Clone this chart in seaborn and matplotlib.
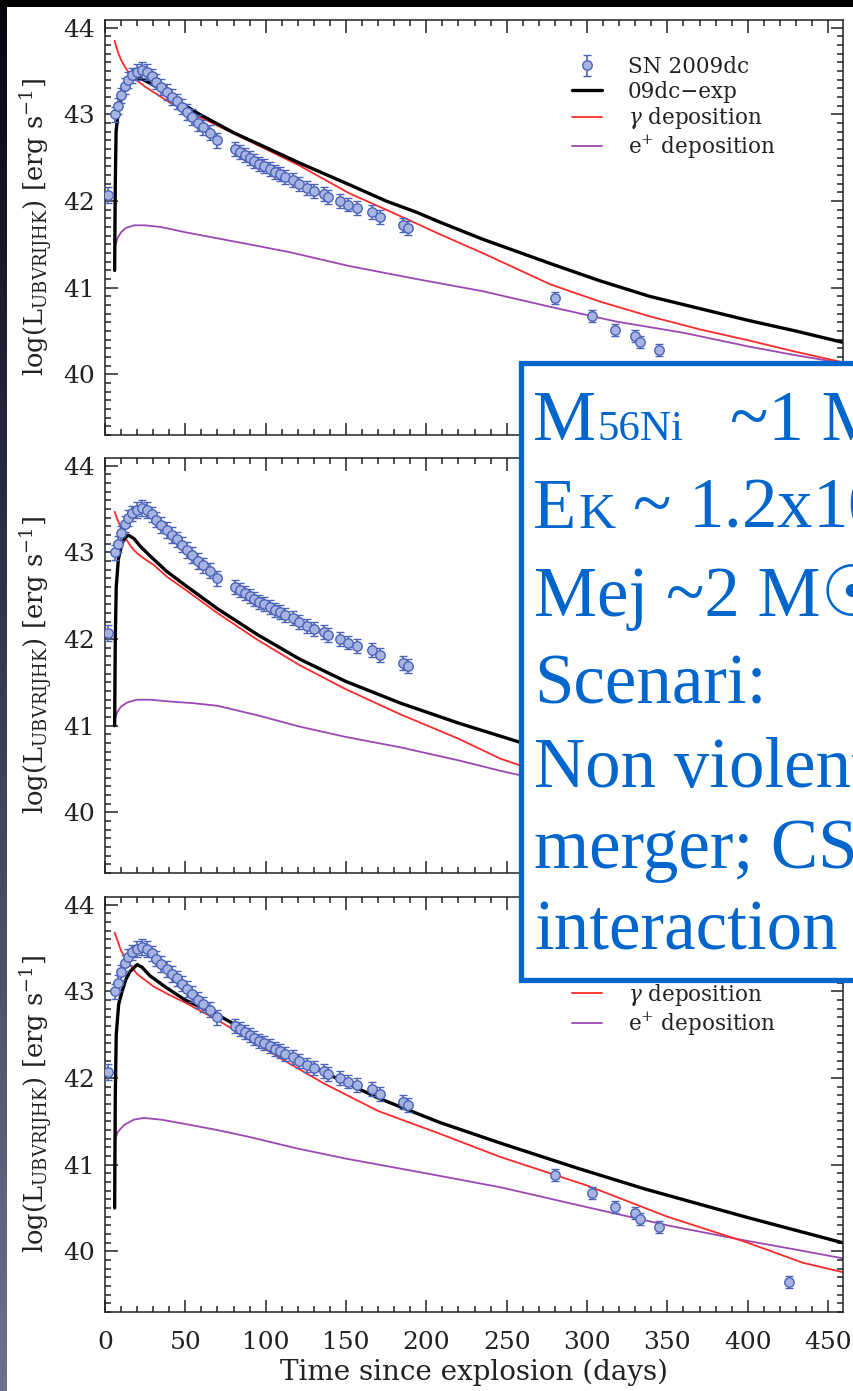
import numpy as np
import pandas as pd
import matplotlib
matplotlib.use("Agg")
import matplotlib.pyplot as plt
import seaborn as sns
from matplotlib.ticker import MultipleLocator, NullFormatter
from matplotlib.patches import Rectangle

# ---------------- data ----------------
obs_day = [2, 6, 8, 10, 12.4, 14.5, 16.6, 19.7, 23, 26, 29, 32, 35, 38.4, 41.5, 44.6,
           47.8, 51, 54, 58, 61, 65.4, 70, 81, 84, 87, 90, 93, 96, 99, 103, 106, 109,
           112, 117, 121, 126, 130, 136, 139, 146, 151, 157, 166, 171, 185.5, 188.6,
           280, 303, 317.5, 330, 333, 345, 426]
obs_logL = [42.07, 43.0, 43.1, 43.22, 43.33, 43.4, 43.45, 43.49, 43.51, 43.49, 43.44,
            43.38, 43.32, 43.26, 43.2, 43.15, 43.09, 43.03, 42.97, 42.9, 42.85, 42.79,
            42.7, 42.6, 42.57, 42.53, 42.5, 42.46, 42.43, 42.4, 42.37, 42.34, 42.31,
            42.28, 42.24, 42.2, 42.15, 42.12, 42.08, 42.05, 42.0, 41.96, 41.92, 41.87,
            41.82, 41.72, 41.69, 40.88, 40.67, 40.51, 40.44, 40.37, 40.28, 39.65]
obs_err = [0.09, 0.09, 0.09, 0.09, 0.09, 0.09, 0.09, 0.09, 0.09, 0.09, 0.09, 0.09,
           0.09, 0.09, 0.09, 0.09, 0.09, 0.09, 0.09, 0.09, 0.09, 0.09, 0.09, 0.08,
           0.08, 0.08, 0.08, 0.08, 0.08, 0.08, 0.08, 0.08, 0.08, 0.08, 0.08, 0.08,
           0.08, 0.08, 0.08, 0.08, 0.08, 0.08, 0.08, 0.08, 0.08, 0.08, 0.08, 0.07,
           0.07, 0.07, 0.07, 0.07, 0.07, 0.07]

# panel 1 model
p1_exp_t = [6, 6.4, 6.9, 8.3, 11.3, 15.6, 18.7, 23, 28, 38.5, 51, 59, 80, 100, 121,
            152, 175, 194, 208, 235, 277, 308, 339, 370, 401, 430, 459]
p1_exp_L = [41.2, 42.2, 42.8, 43.05, 43.25, 43.38, 43.42, 43.41, 43.36, 43.25, 43.09,
            43.0, 42.79, 42.62, 42.44, 42.19, 42.0, 41.87, 41.76, 41.56, 41.28, 41.08,
            40.9, 40.76, 40.62, 40.5, 40.37]
p1_gam_t = [6, 8, 10, 13, 16, 20, 25, 30, 40, 50, 59, 80, 100, 121, 152, 175, 194,
            208, 235, 277, 308, 339, 370, 401, 430, 459]
p1_gam_L = [43.85, 43.72, 43.63, 43.53, 43.46, 43.39, 43.32, 43.26, 43.14, 43.05,
            42.97, 42.78, 42.6, 42.41, 42.09, 41.9, 41.74, 41.62, 41.4, 41.04, 40.84,
            40.67, 40.52, 40.39, 40.26, 40.14]
p1_pos_t = [6, 8, 10, 13, 18, 25, 35, 50, 70, 90, 115, 152, 194, 235, 277, 318, 360,
            401, 430, 459]
p1_pos_L = [41.47, 41.58, 41.64, 41.69, 41.72, 41.72, 41.7, 41.64, 41.57, 41.5, 41.41,
            41.25, 41.1, 40.96, 40.78, 40.61, 40.48, 40.32, 40.22, 40.13]

# panel 2 model
p2_exp_t = [6, 6.4, 7.0, 8.3, 10.5, 12.5, 14.5, 18, 22, 28, 38.5, 50, 70, 95, 121,
            150, 184, 220, 246, 265]
p2_exp_L = [41.0, 42.0, 42.6, 42.92, 43.1, 43.17, 43.2, 43.16, 43.07, 42.96, 42.78,
            42.62, 42.35, 42.05, 41.77, 41.51, 41.26, 41.03, 40.88, 40.77]
p2_gam_t = [6, 8, 10, 13, 16, 20, 25, 30, 38.5, 50, 70, 95, 121, 150, 184, 220, 246,
            265]
p2_gam_L = [43.47, 43.37, 43.28, 43.16, 43.07, 42.99, 42.92, 42.86, 42.72, 42.57,
            42.3, 41.99, 41.7, 41.42, 41.13, 40.85, 40.62, 40.5]
p2_pos_t = [6, 8, 10, 14, 20, 28, 40, 55, 70, 95, 121, 150, 184, 220, 246, 265]
p2_pos_L = [41.08, 41.17, 41.22, 41.27, 41.3, 41.3, 41.28, 41.26, 41.23, 41.12, 40.99,
            40.87, 40.75, 40.6, 40.48, 40.4]

# panel 3 model
p3_exp_t = [6, 6.4, 7.0, 8.5, 10.6, 13, 15.6, 20, 23, 28, 38.5, 50, 70, 100, 121, 136,
            170, 208, 246, 294, 336, 400, 459]
p3_exp_L = [40.5, 41.8, 42.5, 42.85, 43.0, 43.14, 43.23, 43.31, 43.28, 43.18, 43.04,
            42.9, 42.73, 42.42, 42.2, 42.07, 41.77, 41.49, 41.25, 40.96, 40.72, 40.39,
            40.1]
p3_gam_t = [6, 10, 15, 20, 30, 40, 50, 70, 90, 110, 136, 170, 208, 246, 300, 350, 400,
            434, 459]
p3_gam_L = [43.68, 43.47, 43.32, 43.2, 43.06, 42.96, 42.87, 42.67, 42.45, 42.22, 41.94,
            41.62, 41.36, 41.09, 40.76, 40.4, 40.1, 39.87, 39.76]
p3_pos_t = [6, 8, 12, 18, 24, 35, 50, 70, 90, 119, 150, 200, 246, 300, 350, 400, 430,
            459]
p3_pos_L = [41.28, 41.38, 41.46, 41.52, 41.54, 41.52, 41.47, 41.4, 41.32, 41.19, 41.07,
            40.9, 40.74, 40.51, 40.3, 40.12, 40.02, 39.92]

legend_labels = ["SN 2009dc", "09dc\u2212exp", r"$\gamma$ deposition", r"e$^{+}$ deposition"]
xtick_vals = [0, 50, 100, 150, 200, 250, 300, 350, 400, 450]
ytick_vals = [40, 41, 42, 43, 44]
x_label = "Time since explosion (days)"
y_label = r"log(L$_{\rm UBVRIJHK}$) [erg s$^{-1}$]"

box_lines = [
    [("M", 51), ("56Ni", 31), ("~1 M\u2609", 51)],
    [("E", 51), ("K", 37), ("~ 1.2x10$^{51}$ erg", 51)],
    [("Mej ~2 M\u2609", 51)],
    [("Scenari:", 51)],
    [("Non violent", 51)],
    [("merger; CSM", 51)],
    [("interaction", 51)],
]

# ---------------- style ----------------
sns.set_theme(style="ticks")
plt.rcParams["font.family"] = ["DejaVu Serif", "DejaVu Sans"]
plt.rcParams["mathtext.fontset"] = "dejavuserif"

W, H = 854, 1391
fig = plt.figure(figsize=(W / 100, H / 100), dpi=100)
fig.patch.set_facecolor("white")

def fx(px):
    return px / W

def fy(py):
    return 1 - py / H

col_black = "#000000"
col_red = "#ff2a2a"
col_purple = "#9b48b4"
col_pt_face = "#a7b3e0"
col_pt_edge = "#4b63b9"
col_axis = "#222222"

panels = [
    (20, 435, p1_exp_t, p1_exp_L, p1_gam_t, p1_gam_L, p1_pos_t, p1_pos_L),
    (458, 873, p2_exp_t, p2_exp_L, p2_gam_t, p2_gam_L, p2_pos_t, p2_pos_L),
    (897, 1312, p3_exp_t, p3_exp_L, p3_gam_t, p3_gam_L, p3_pos_t, p3_pos_L),
]

left_px, right_px = 105, 843
for i, (top, bot, et, eL, gt, gL, pt, pL) in enumerate(panels):
    ax = fig.add_axes([fx(left_px), fy(bot), fx(right_px - left_px), (bot - top) / H])
    sns.lineplot(x=pt, y=pL, ax=ax, color=col_purple, lw=1.3, sort=False)
    sns.lineplot(x=gt, y=gL, ax=ax, color=col_red, lw=1.3, sort=False)
    sns.lineplot(x=et, y=eL, ax=ax, color=col_black, lw=2.4, sort=False)
    eb = ax.errorbar(obs_day, obs_logL, yerr=obs_err, fmt="o", ms=6.8,
                     mfc=col_pt_face, mec=col_pt_edge, mew=1.0,
                     ecolor=col_pt_edge, elinewidth=1.2, capsize=3.2, capthick=1.2,
                     zorder=5)
    lines = ax.get_lines()
    h_pos, h_gam, h_exp = lines[0], lines[1], lines[2]
    leg_kw = dict(loc="upper left", frameon=False, fontsize=15.5, handlelength=1.4,
                  handletextpad=1.2, labelspacing=0.12, borderpad=0, borderaxespad=0)
    ax_x = (572 - left_px) / (right_px - left_px)
    if i == 0:
        leg = ax.legend([eb, h_exp, h_gam, h_pos], legend_labels,
                        bbox_to_anchor=(ax_x, 1 - (56 - 20) / 415), **leg_kw)
    elif i == 2:
        # only the two lower rows are visible below the overlay box
        leg = ax.legend([h_gam, h_pos], legend_labels[2:],
                        bbox_to_anchor=(ax_x, 1 - (982 - 897) / 415), **leg_kw)
    else:
        leg = None
    if leg is not None:
        for t in leg.get_texts():
            t.set_color(col_axis)

    ax.set_xlim(0, 459.3)
    ax.set_ylim(39.3, 44.09)
    ax.set_xticks(xtick_vals)
    ax.set_yticks(ytick_vals)
    ax.xaxis.set_minor_locator(MultipleLocator(10))
    ax.yaxis.set_minor_locator(MultipleLocator(0.1))
    ax.tick_params(which="both", direction="in", top=True, right=True,
                   width=1.1, colors=col_axis)
    ax.tick_params(which="major", length=9)
    ax.tick_params(which="minor", length=4.5)
    ax.tick_params(axis="x", which="major", pad=14, labelsize=18)
    ax.tick_params(axis="y", which="major", pad=7, labelsize=18)
    for s in ax.spines.values():
        s.set_linewidth(1.1)
        s.set_color(col_axis)
    ax.set_ylabel(y_label, fontsize=18.5, labelpad=6, color=col_axis)
    if i < 2:
        ax.xaxis.set_major_formatter(NullFormatter())
        ax.set_xlabel("")
    else:
        ax.set_xlabel(x_label, fontsize=20, labelpad=3, color=col_axis)
    ax.set_facecolor("white")

# ---------------- overlay box ----------------
box = Rectangle((fx(521), fy(980)), fx(700), (980 - 363) / H,
                transform=fig.transFigure, facecolor="white",
                edgecolor="#0066cc", lw=3.8, zorder=10)
fig.add_artist(box)

baselines = [440, 528, 616, 703, 787, 868, 950]
starts = {0: [533, 597, 730], 1: [533, 579, 632]}
for r, (row, by) in enumerate(zip(box_lines, baselines)):
    xs = starts.get(r, [534])
    for (s, size), xpx in zip(row, xs):
        fig.text(fx(xpx), fy(by), s, fontsize=size, color="#0066cc",
                 family=["Liberation Serif", "DejaVu Sans"], va="baseline",
                 ha="left", zorder=11)

# ---------------- slide border ----------------
ax_strip = fig.add_axes([0, 0, fx(7), 1])
grad = np.linspace(0, 1, 256)[:, None]
c_top = np.array([5, 5, 18]) / 255
c_bot = np.array([112, 112, 142]) / 255
img = c_top[None, None, :] * (1 - grad[:, :, None]) + c_bot[None, None, :] * grad[:, :, None]
ax_strip.imshow(img, aspect="auto", extent=[0, 1, 0, 1], origin="upper")
ax_strip.axis("off")
fig.add_artist(Rectangle((0, fy(7)), 1, 7 / H, transform=fig.transFigure,
                         facecolor="black", edgecolor="none", zorder=20))

fig.savefig("out.png", dpi=100)
